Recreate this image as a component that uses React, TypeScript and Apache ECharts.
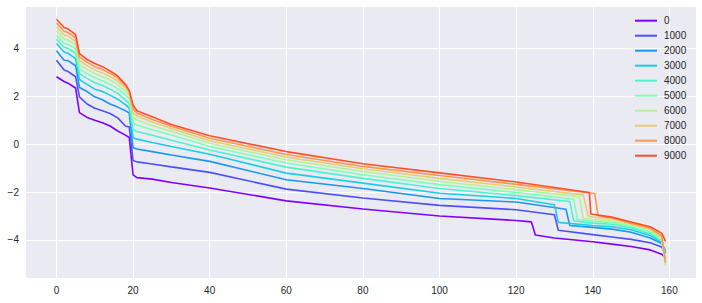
import React, { useEffect, useRef } from "react";
import * as echarts from "echarts";

const seriesNames = ["0", "1000", "2000", "3000", "4000", "5000", "6000", "7000", "8000", "9000"];
const colors = ["#8000ff", "#4d4ffc", "#1a96f3", "#1acee3", "#4df3ce", "#80ffb4", "#b3f396", "#e6ce74", "#ff964f", "#ff4f28"];

const headX = [0, 2, 3, 5, 6, 8, 10, 12, 14, 16, 18, 19, 20, 21, 25, 30, 40, 60, 80, 100, 120];

const head0 = [2.82, 2.62, 2.55, 2.35, 1.32, 1.12, 1.0, 0.9, 0.76, 0.55, 0.38, 0.28, -1.28, -1.4, -1.46, -1.6, -1.83, -2.37, -2.71, -3.0, -3.19];
const head1000 = [3.51, 3.1, 3.04, 2.82, 1.98, 1.68, 1.5, 1.4, 1.28, 1.1, 0.76, 0.72, -0.68, -0.74, -0.83, -0.95, -1.18, -1.88, -2.25, -2.56, -2.74];
const head2000 = [3.91, 3.51, 3.49, 3.28, 2.37, 2.2, 1.98, 1.86, 1.68, 1.55, 1.4, 1.3, -0.15, -0.2, -0.31, -0.45, -0.72, -1.49, -1.85, -2.27, -2.42];
const head3000 = [4.21, 3.85, 3.8, 3.58, 2.7, 2.5, 2.3, 2.2, 2.05, 1.88, 1.65, 1.5, 0.28, 0.21, 0.07, -0.1, -0.42, -1.21, -1.63, -2.05, -2.27];
const head4000 = [4.39, 4.05, 4.0, 3.8, 2.95, 2.75, 2.57, 2.45, 2.3, 2.12, 1.85, 1.7, 0.6, 0.53, 0.37, 0.16, -0.24, -0.96, -1.43, -1.85, -2.15];
const head5000 = [4.56, 4.22, 4.18, 3.98, 3.15, 2.95, 2.78, 2.65, 2.5, 2.32, 2.05, 1.9, 0.9, 0.8, 0.6, 0.38, -0.1, -0.79, -1.28, -1.69, -2.02];
const head6000 = [4.73, 4.4, 4.35, 4.15, 3.33, 3.12, 2.95, 2.82, 2.68, 2.5, 2.2, 2.05, 1.12, 1.01, 0.78, 0.54, 0.04, -0.65, -1.14, -1.55, -1.9];
const head7000 = [4.9, 4.57, 4.52, 4.3, 3.5, 3.28, 3.1, 2.98, 2.83, 2.64, 2.35, 2.15, 1.3, 1.18, 0.92, 0.66, 0.14, -0.54, -1.03, -1.43, -1.79];
const head8000 = [5.06, 4.72, 4.67, 4.45, 3.65, 3.42, 3.24, 3.12, 2.96, 2.76, 2.45, 2.22, 1.48, 1.29, 1.03, 0.75, 0.25, -0.43, -0.93, -1.31, -1.68];
const head9000 = [5.22, 4.88, 4.82, 4.58, 3.79, 3.54, 3.37, 3.24, 3.06, 2.85, 2.5, 2.25, 1.64, 1.4, 1.15, 0.82, 0.35, -0.31, -0.82, -1.2, -1.58];

const tail0 = [[124, -3.25], [125, -3.8], [130, -3.92], [140, -4.08], [145, -4.18], [150, -4.28], [155, -4.42], [158, -4.6], [159, -4.76]];
const tail1000 = [[130, -2.95], [131, -3.6], [140, -3.78], [145, -3.88], [150, -3.98], [155, -4.12], [158, -4.3], [159, -4.55]];
const tail2000 = [[133, -2.72], [134, -3.4], [140, -3.48], [145, -3.55], [150, -3.68], [155, -3.92], [158, -4.15], [159, -4.45]];
const tail3000 = [[130, -2.53], [131, -3.27], [140, -3.4], [145, -3.45], [150, -3.58], [155, -3.82], [158, -4.1], [159, -4.55]];
const tail4000 = [[134, -2.4], [135, -3.2], [140, -3.3], [145, -3.35], [150, -3.5], [155, -3.75], [158, -4.05], [159, -4.9]];
const tail5000 = [[135, -2.3], [136, -3.15], [140, -3.22], [145, -3.28], [150, -3.44], [155, -3.68], [158, -4.0], [159, -5.08]];
const tail6000 = [[136.5, -2.2], [137.5, -3.1], [140, -3.15], [145, -3.2], [150, -3.38], [155, -3.6], [158, -3.95], [159, -5.02]];
const tail7000 = [[137.5, -2.12], [138.8, -3.0], [140, -3.05], [145, -3.12], [150, -3.33], [155, -3.55], [158, -3.9], [159, -4.85]];
const tail8000 = [[140.5, -2.06], [141.4, -2.99], [145, -3.08], [150, -3.3], [155, -3.5], [158, -3.82], [159, -4.95]];
const tail9000 = [[139.1, -2.02], [139.5, -2.92], [145, -3.05], [150, -3.25], [155, -3.45], [158, -3.72], [159, -4.06]];

const heads = [head0, head1000, head2000, head3000, head4000, head5000, head6000, head7000, head8000, head9000];
const tails = [tail0, tail1000, tail2000, tail3000, tail4000, tail5000, tail6000, tail7000, tail8000, tail9000];

const xTicks = [0, 20, 40, 60, 80, 100, 120, 140, 160];
const yTicks = [-4, -2, 0, 2, 4];

const FONT = "Liberation Sans";

export default function App() {
  const ref = useRef<HTMLDivElement>(null);
  useEffect(() => {
    if (!ref.current) return;
    const chart = echarts.init(ref.current, undefined, { renderer: "svg" });
    const series = seriesNames.map((name, i) => ({
      name,
      type: "line",
      symbol: "none",
      showSymbol: false,
      data: headX.map((x, j) => [x, heads[i][j]]).concat(tails[i]),
      lineStyle: { color: colors[i], width: 1.6 },
      itemStyle: { color: colors[i] },
      z: 2 + i,
    }));
    chart.setOption({
      animation: false,
      backgroundColor: "#ffffff",
      grid: { left: 26, right: 6, top: 7, bottom: 25, show: true, backgroundColor: "#EAEAF2", borderWidth: 0 },
      xAxis: {
        type: "value",
        min: -7.95,
        max: 166.95,
        axisLine: { show: false },
        axisTick: { show: false, customValues: xTicks },
        axisLabel: { customValues: xTicks, color: "#262626", fontSize: 10, fontFamily: FONT, margin: 7 },
        splitLine: { show: true, lineStyle: { color: "#ffffff", width: 1 } },
      },
      yAxis: {
        type: "value",
        min: -5.595,
        max: 5.735,
        axisLine: { show: false },
        axisTick: { show: false, customValues: yTicks },
        axisLabel: {
          customValues: yTicks,
          color: "#262626",
          fontSize: 10,
          fontFamily: FONT,
          margin: 7,
          formatter: (v: number) => (v < 0 ? "\u2212" + Math.abs(v) : String(v)),
        },
        splitLine: { show: true, lineStyle: { color: "#ffffff", width: 1 } },
      },
      legend: {
        orient: "vertical",
        left: 635,
        top: 14.7,
        padding: 0,
        itemGap: 3,
        itemWidth: 22,
        itemHeight: 2,
        icon: "rect",
        data: seriesNames,
        textStyle: { color: "#262626", fontSize: 10, fontFamily: FONT, lineHeight: 12, padding: [0, 0, 0, 2] },
      },
      series,
    });
    return () => chart.dispose();
  }, []);
  return <div ref={ref} style={{ position: "fixed", left: 0, top: 0, width: 702, height: 303 }} />;
}
